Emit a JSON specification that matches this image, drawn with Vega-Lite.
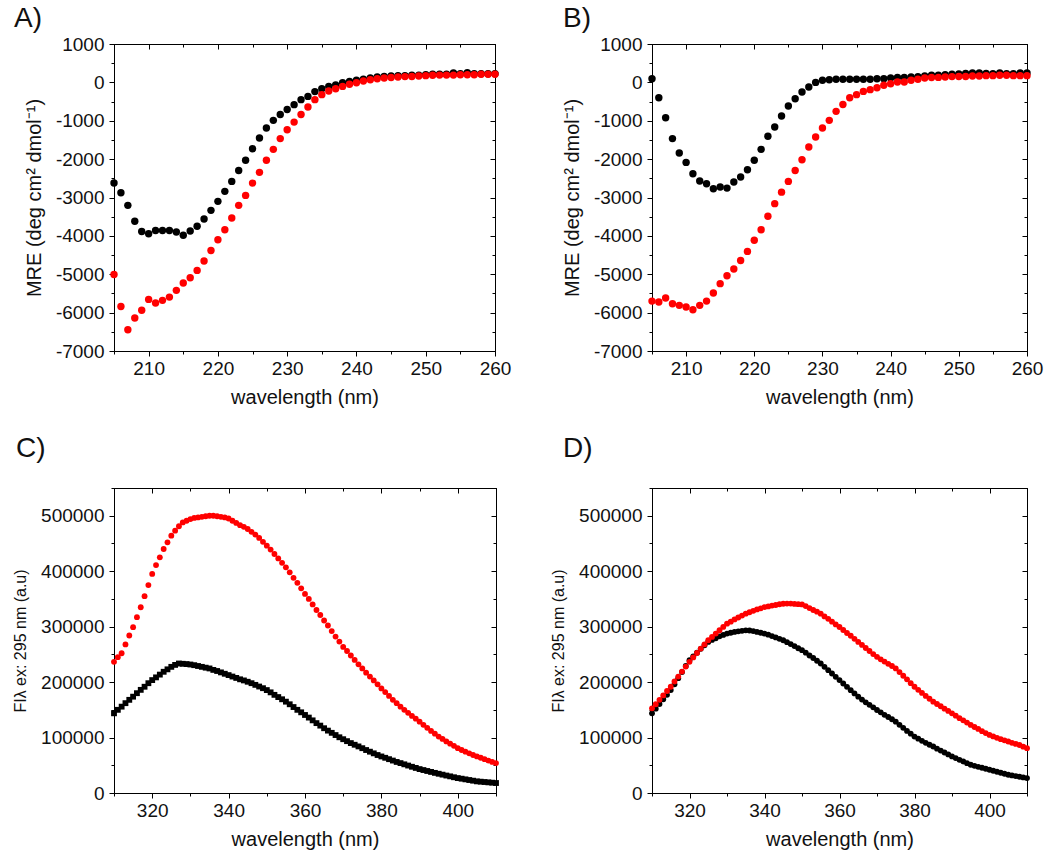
{
  "$schema": "https://vega.github.io/schema/vega-lite/v6.json",
  "background": "white",
  "padding": {"left": 12, "top": 4, "right": 0, "bottom": 0},
  "columns": 2,
  "spacing": {"row": 26, "column": 38},
  "config": {
    "font": "Liberation Sans",
    "view": {"stroke": "#000", "strokeWidth": 1},
    "axis": {"grid": false, "domainColor": "#000", "tickColor": "#000", "labelColor": "#111", "titleColor": "#111", "labelFontSize": 19, "titleFontSize": 20, "titleFontWeight": "normal", "labelFont": "Liberation Sans", "titleFont": "Liberation Sans", "labelOverlap": false, "labelFlush": false},
    "title": {"fontSize": 28, "fontWeight": "normal", "color": "#111", "font": "Liberation Sans"}
  },
  "datasets": {
    "a": [
      {"x":205,"y":-2620,"s":"k"},{"x":206,"y":-2875,"s":"k"},{"x":207,"y":-3205,"s":"k"},{"x":208,"y":-3620,"s":"k"},{"x":209,"y":-3885,"s":"k"},{"x":210,"y":-3945,"s":"k"},{"x":211,"y":-3860,"s":"k"},{"x":212,"y":-3860,"s":"k"},{"x":213,"y":-3860,"s":"k"},{"x":214,"y":-3900,"s":"k"},{"x":215,"y":-3985,"s":"k"},{"x":216,"y":-3875,"s":"k"},{"x":217,"y":-3750,"s":"k"},{"x":218,"y":-3560,"s":"k"},{"x":219,"y":-3335,"s":"k"},{"x":220,"y":-3100,"s":"k"},{"x":221,"y":-2840,"s":"k"},{"x":222,"y":-2580,"s":"k"},{"x":223,"y":-2295,"s":"k"},{"x":224,"y":-2030,"s":"k"},{"x":225,"y":-1730,"s":"k"},{"x":226,"y":-1450,"s":"k"},{"x":227,"y":-1190,"s":"k"},{"x":228,"y":-990,"s":"k"},{"x":229,"y":-835,"s":"k"},{"x":230,"y":-705,"s":"k"},{"x":231,"y":-580,"s":"k"},{"x":232,"y":-450,"s":"k"},{"x":233,"y":-365,"s":"k"},{"x":234,"y":-240,"s":"k"},{"x":235,"y":-165,"s":"k"},{"x":236,"y":-105,"s":"k"},{"x":237,"y":-70,"s":"k"},{"x":238,"y":-10,"s":"k"},{"x":239,"y":25,"s":"k"},{"x":240,"y":55,"s":"k"},{"x":241,"y":80,"s":"k"},{"x":242,"y":115,"s":"k"},{"x":243,"y":140,"s":"k"},{"x":244,"y":155,"s":"k"},{"x":245,"y":165,"s":"k"},{"x":246,"y":175,"s":"k"},{"x":247,"y":175,"s":"k"},{"x":248,"y":185,"s":"k"},{"x":249,"y":190,"s":"k"},{"x":250,"y":200,"s":"k"},{"x":251,"y":210,"s":"k"},{"x":252,"y":210,"s":"k"},{"x":253,"y":210,"s":"k"},{"x":254,"y":245,"s":"k"},{"x":255,"y":225,"s":"k"},{"x":256,"y":255,"s":"k"},{"x":257,"y":225,"s":"k"},{"x":258,"y":225,"s":"k"},{"x":259,"y":225,"s":"k"},{"x":260,"y":225,"s":"k"},
      {"x":205,"y":-5005,"s":"r"},{"x":206,"y":-5840,"s":"r"},{"x":207,"y":-6445,"s":"r"},{"x":208,"y":-6140,"s":"r"},{"x":209,"y":-5940,"s":"r"},{"x":210,"y":-5655,"s":"r"},{"x":211,"y":-5750,"s":"r"},{"x":212,"y":-5680,"s":"r"},{"x":213,"y":-5595,"s":"r"},{"x":214,"y":-5420,"s":"r"},{"x":215,"y":-5230,"s":"r"},{"x":216,"y":-5090,"s":"r"},{"x":217,"y":-4900,"s":"r"},{"x":218,"y":-4655,"s":"r"},{"x":219,"y":-4380,"s":"r"},{"x":220,"y":-4100,"s":"r"},{"x":221,"y":-3840,"s":"r"},{"x":222,"y":-3535,"s":"r"},{"x":223,"y":-3205,"s":"r"},{"x":224,"y":-2945,"s":"r"},{"x":225,"y":-2625,"s":"r"},{"x":226,"y":-2345,"s":"r"},{"x":227,"y":-2030,"s":"r"},{"x":228,"y":-1745,"s":"r"},{"x":229,"y":-1465,"s":"r"},{"x":230,"y":-1235,"s":"r"},{"x":231,"y":-1035,"s":"r"},{"x":232,"y":-835,"s":"r"},{"x":233,"y":-640,"s":"r"},{"x":234,"y":-450,"s":"r"},{"x":235,"y":-320,"s":"r"},{"x":236,"y":-225,"s":"r"},{"x":237,"y":-165,"s":"r"},{"x":238,"y":-105,"s":"r"},{"x":239,"y":-50,"s":"r"},{"x":240,"y":-10,"s":"r"},{"x":241,"y":35,"s":"r"},{"x":242,"y":70,"s":"r"},{"x":243,"y":95,"s":"r"},{"x":244,"y":115,"s":"r"},{"x":245,"y":125,"s":"r"},{"x":246,"y":140,"s":"r"},{"x":247,"y":150,"s":"r"},{"x":248,"y":155,"s":"r"},{"x":249,"y":165,"s":"r"},{"x":250,"y":175,"s":"r"},{"x":251,"y":185,"s":"r"},{"x":252,"y":190,"s":"r"},{"x":253,"y":190,"s":"r"},{"x":254,"y":190,"s":"r"},{"x":255,"y":200,"s":"r"},{"x":256,"y":200,"s":"r"},{"x":257,"y":200,"s":"r"},{"x":258,"y":210,"s":"r"},{"x":259,"y":210,"s":"r"},{"x":260,"y":210,"s":"r"}
    ],
    "b": [
      {"x":205,"y":95,"s":"k"},{"x":206,"y":-400,"s":"k"},{"x":207,"y":-920,"s":"k"},{"x":208,"y":-1465,"s":"k"},{"x":209,"y":-1840,"s":"k"},{"x":210,"y":-2085,"s":"k"},{"x":211,"y":-2380,"s":"k"},{"x":212,"y":-2570,"s":"k"},{"x":213,"y":-2640,"s":"k"},{"x":214,"y":-2770,"s":"k"},{"x":215,"y":-2725,"s":"k"},{"x":216,"y":-2755,"s":"k"},{"x":217,"y":-2595,"s":"k"},{"x":218,"y":-2465,"s":"k"},{"x":219,"y":-2275,"s":"k"},{"x":220,"y":-2030,"s":"k"},{"x":221,"y":-1745,"s":"k"},{"x":222,"y":-1405,"s":"k"},{"x":223,"y":-1165,"s":"k"},{"x":224,"y":-875,"s":"k"},{"x":225,"y":-615,"s":"k"},{"x":226,"y":-425,"s":"k"},{"x":227,"y":-250,"s":"k"},{"x":228,"y":-120,"s":"k"},{"x":229,"y":0,"s":"k"},{"x":230,"y":55,"s":"k"},{"x":231,"y":70,"s":"k"},{"x":232,"y":80,"s":"k"},{"x":233,"y":80,"s":"k"},{"x":234,"y":80,"s":"k"},{"x":235,"y":80,"s":"k"},{"x":236,"y":80,"s":"k"},{"x":237,"y":80,"s":"k"},{"x":238,"y":95,"s":"k"},{"x":239,"y":95,"s":"k"},{"x":240,"y":115,"s":"k"},{"x":241,"y":125,"s":"k"},{"x":242,"y":130,"s":"k"},{"x":243,"y":140,"s":"k"},{"x":244,"y":150,"s":"k"},{"x":245,"y":165,"s":"k"},{"x":246,"y":185,"s":"k"},{"x":247,"y":190,"s":"k"},{"x":248,"y":200,"s":"k"},{"x":249,"y":210,"s":"k"},{"x":250,"y":220,"s":"k"},{"x":251,"y":235,"s":"k"},{"x":252,"y":245,"s":"k"},{"x":253,"y":245,"s":"k"},{"x":254,"y":235,"s":"k"},{"x":255,"y":225,"s":"k"},{"x":256,"y":245,"s":"k"},{"x":257,"y":225,"s":"k"},{"x":258,"y":225,"s":"k"},{"x":259,"y":245,"s":"k"},{"x":260,"y":245,"s":"k"},
      {"x":205,"y":-5700,"s":"r"},{"x":206,"y":-5725,"s":"r"},{"x":207,"y":-5620,"s":"r"},{"x":208,"y":-5770,"s":"r"},{"x":209,"y":-5810,"s":"r"},{"x":210,"y":-5855,"s":"r"},{"x":211,"y":-5925,"s":"r"},{"x":212,"y":-5810,"s":"r"},{"x":213,"y":-5700,"s":"r"},{"x":214,"y":-5490,"s":"r"},{"x":215,"y":-5245,"s":"r"},{"x":216,"y":-5040,"s":"r"},{"x":217,"y":-4865,"s":"r"},{"x":218,"y":-4640,"s":"r"},{"x":219,"y":-4405,"s":"r"},{"x":220,"y":-4115,"s":"r"},{"x":221,"y":-3840,"s":"r"},{"x":222,"y":-3490,"s":"r"},{"x":223,"y":-3160,"s":"r"},{"x":224,"y":-2860,"s":"r"},{"x":225,"y":-2580,"s":"r"},{"x":226,"y":-2295,"s":"r"},{"x":227,"y":-2015,"s":"r"},{"x":228,"y":-1685,"s":"r"},{"x":229,"y":-1425,"s":"r"},{"x":230,"y":-1190,"s":"r"},{"x":231,"y":-990,"s":"r"},{"x":232,"y":-755,"s":"r"},{"x":233,"y":-575,"s":"r"},{"x":234,"y":-400,"s":"r"},{"x":235,"y":-320,"s":"r"},{"x":236,"y":-235,"s":"r"},{"x":237,"y":-190,"s":"r"},{"x":238,"y":-140,"s":"r"},{"x":239,"y":-75,"s":"r"},{"x":240,"y":-35,"s":"r"},{"x":241,"y":10,"s":"r"},{"x":242,"y":10,"s":"r"},{"x":243,"y":55,"s":"r"},{"x":244,"y":80,"s":"r"},{"x":245,"y":115,"s":"r"},{"x":246,"y":125,"s":"r"},{"x":247,"y":130,"s":"r"},{"x":248,"y":140,"s":"r"},{"x":249,"y":150,"s":"r"},{"x":250,"y":155,"s":"r"},{"x":251,"y":155,"s":"r"},{"x":252,"y":165,"s":"r"},{"x":253,"y":165,"s":"r"},{"x":254,"y":175,"s":"r"},{"x":255,"y":175,"s":"r"},{"x":256,"y":185,"s":"r"},{"x":257,"y":185,"s":"r"},{"x":258,"y":175,"s":"r"},{"x":259,"y":175,"s":"r"},{"x":260,"y":175,"s":"r"}
    ],
    "c": [
      {"x":310,"y":143700,"s":"k"},{"x":311,"y":150000,"s":"k"},{"x":312,"y":155700,"s":"k"},{"x":313,"y":162000,"s":"k"},{"x":314,"y":168000,"s":"k"},{"x":315,"y":173700,"s":"k"},{"x":316,"y":180000,"s":"k"},{"x":317,"y":186000,"s":"k"},{"x":318,"y":191600,"s":"k"},{"x":319,"y":198000,"s":"k"},{"x":320,"y":203600,"s":"k"},{"x":321,"y":208500,"s":"k"},{"x":322,"y":213500,"s":"k"},{"x":323,"y":218600,"s":"k"},{"x":324,"y":223000,"s":"k"},{"x":325,"y":227500,"s":"k"},{"x":326,"y":231000,"s":"k"},{"x":327,"y":233500,"s":"k"},{"x":328,"y":233000,"s":"k"},{"x":329,"y":232500,"s":"k"},{"x":330,"y":231700,"s":"k"},{"x":331,"y":230500,"s":"k"},{"x":332,"y":229000,"s":"k"},{"x":333,"y":227500,"s":"k"},{"x":334,"y":226000,"s":"k"},{"x":335,"y":224600,"s":"k"},{"x":336,"y":222000,"s":"k"},{"x":337,"y":220000,"s":"k"},{"x":338,"y":217500,"s":"k"},{"x":339,"y":215000,"s":"k"},{"x":340,"y":212600,"s":"k"},{"x":341,"y":210000,"s":"k"},{"x":342,"y":207500,"s":"k"},{"x":343,"y":205000,"s":"k"},{"x":344,"y":203000,"s":"k"},{"x":345,"y":200600,"s":"k"},{"x":346,"y":198000,"s":"k"},{"x":347,"y":195000,"s":"k"},{"x":348,"y":192000,"s":"k"},{"x":349,"y":189000,"s":"k"},{"x":350,"y":185600,"s":"k"},{"x":351,"y":181500,"s":"k"},{"x":352,"y":177000,"s":"k"},{"x":353,"y":173000,"s":"k"},{"x":354,"y":169000,"s":"k"},{"x":355,"y":164700,"s":"k"},{"x":356,"y":160000,"s":"k"},{"x":357,"y":155000,"s":"k"},{"x":358,"y":150000,"s":"k"},{"x":359,"y":145500,"s":"k"},{"x":360,"y":140700,"s":"k"},{"x":361,"y":136000,"s":"k"},{"x":362,"y":131000,"s":"k"},{"x":363,"y":126000,"s":"k"},{"x":364,"y":121500,"s":"k"},{"x":365,"y":116800,"s":"k"},{"x":366,"y":112500,"s":"k"},{"x":367,"y":108500,"s":"k"},{"x":368,"y":104500,"s":"k"},{"x":369,"y":100500,"s":"k"},{"x":370,"y":97000,"s":"k"},{"x":371,"y":93500,"s":"k"},{"x":372,"y":90000,"s":"k"},{"x":373,"y":87000,"s":"k"},{"x":374,"y":84000,"s":"k"},{"x":375,"y":80800,"s":"k"},{"x":376,"y":77500,"s":"k"},{"x":377,"y":74500,"s":"k"},{"x":378,"y":71500,"s":"k"},{"x":379,"y":68500,"s":"k"},{"x":380,"y":65900,"s":"k"},{"x":381,"y":63500,"s":"k"},{"x":382,"y":61000,"s":"k"},{"x":383,"y":58500,"s":"k"},{"x":384,"y":56000,"s":"k"},{"x":385,"y":53900,"s":"k"},{"x":386,"y":51700,"s":"k"},{"x":387,"y":49500,"s":"k"},{"x":388,"y":47300,"s":"k"},{"x":389,"y":45200,"s":"k"},{"x":390,"y":43100,"s":"k"},{"x":391,"y":41400,"s":"k"},{"x":392,"y":39700,"s":"k"},{"x":393,"y":38000,"s":"k"},{"x":394,"y":36300,"s":"k"},{"x":395,"y":34700,"s":"k"},{"x":396,"y":33100,"s":"k"},{"x":397,"y":31500,"s":"k"},{"x":398,"y":30000,"s":"k"},{"x":399,"y":28400,"s":"k"},{"x":400,"y":26900,"s":"k"},{"x":401,"y":25800,"s":"k"},{"x":402,"y":24600,"s":"k"},{"x":403,"y":23400,"s":"k"},{"x":404,"y":22200,"s":"k"},{"x":405,"y":21000,"s":"k"},{"x":406,"y":20400,"s":"k"},{"x":407,"y":19800,"s":"k"},{"x":408,"y":19200,"s":"k"},{"x":409,"y":18600,"s":"k"},{"x":410,"y":18000,"s":"k"},
      {"x":310,"y":236500,"s":"r"},{"x":311,"y":245000,"s":"r"},{"x":312,"y":252000,"s":"r"},{"x":313,"y":268000,"s":"r"},{"x":314,"y":284000,"s":"r"},{"x":315,"y":299000,"s":"r"},{"x":316,"y":317000,"s":"r"},{"x":317,"y":335000,"s":"r"},{"x":318,"y":355000,"s":"r"},{"x":319,"y":375000,"s":"r"},{"x":320,"y":395000,"s":"r"},{"x":321,"y":411000,"s":"r"},{"x":322,"y":425000,"s":"r"},{"x":323,"y":440000,"s":"r"},{"x":324,"y":452000,"s":"r"},{"x":325,"y":464000,"s":"r"},{"x":326,"y":473000,"s":"r"},{"x":327,"y":481000,"s":"r"},{"x":328,"y":488000,"s":"r"},{"x":329,"y":491000,"s":"r"},{"x":330,"y":494000,"s":"r"},{"x":331,"y":496000,"s":"r"},{"x":332,"y":497000,"s":"r"},{"x":333,"y":498000,"s":"r"},{"x":334,"y":499000,"s":"r"},{"x":335,"y":500000,"s":"r"},{"x":336,"y":500000,"s":"r"},{"x":337,"y":499000,"s":"r"},{"x":338,"y":498000,"s":"r"},{"x":339,"y":497000,"s":"r"},{"x":340,"y":495000,"s":"r"},{"x":341,"y":491000,"s":"r"},{"x":342,"y":487000,"s":"r"},{"x":343,"y":483000,"s":"r"},{"x":344,"y":480000,"s":"r"},{"x":345,"y":476000,"s":"r"},{"x":346,"y":471000,"s":"r"},{"x":347,"y":466000,"s":"r"},{"x":348,"y":460000,"s":"r"},{"x":349,"y":453000,"s":"r"},{"x":350,"y":446000,"s":"r"},{"x":351,"y":439000,"s":"r"},{"x":352,"y":431000,"s":"r"},{"x":353,"y":423000,"s":"r"},{"x":354,"y":415000,"s":"r"},{"x":355,"y":407000,"s":"r"},{"x":356,"y":398000,"s":"r"},{"x":357,"y":388000,"s":"r"},{"x":358,"y":379000,"s":"r"},{"x":359,"y":369000,"s":"r"},{"x":360,"y":359000,"s":"r"},{"x":361,"y":350000,"s":"r"},{"x":362,"y":340000,"s":"r"},{"x":363,"y":330000,"s":"r"},{"x":364,"y":321000,"s":"r"},{"x":365,"y":311000,"s":"r"},{"x":366,"y":302000,"s":"r"},{"x":367,"y":292000,"s":"r"},{"x":368,"y":282000,"s":"r"},{"x":369,"y":273000,"s":"r"},{"x":370,"y":263500,"s":"r"},{"x":371,"y":256000,"s":"r"},{"x":372,"y":248000,"s":"r"},{"x":373,"y":240000,"s":"r"},{"x":374,"y":232000,"s":"r"},{"x":375,"y":224600,"s":"r"},{"x":376,"y":217000,"s":"r"},{"x":377,"y":210000,"s":"r"},{"x":378,"y":203000,"s":"r"},{"x":379,"y":196000,"s":"r"},{"x":380,"y":188600,"s":"r"},{"x":381,"y":182000,"s":"r"},{"x":382,"y":175000,"s":"r"},{"x":383,"y":168000,"s":"r"},{"x":384,"y":162000,"s":"r"},{"x":385,"y":155700,"s":"r"},{"x":386,"y":150000,"s":"r"},{"x":387,"y":144500,"s":"r"},{"x":388,"y":139000,"s":"r"},{"x":389,"y":134000,"s":"r"},{"x":390,"y":128700,"s":"r"},{"x":391,"y":123000,"s":"r"},{"x":392,"y":117500,"s":"r"},{"x":393,"y":112000,"s":"r"},{"x":394,"y":107000,"s":"r"},{"x":395,"y":101800,"s":"r"},{"x":396,"y":97500,"s":"r"},{"x":397,"y":93000,"s":"r"},{"x":398,"y":89000,"s":"r"},{"x":399,"y":85000,"s":"r"},{"x":400,"y":80800,"s":"r"},{"x":401,"y":77500,"s":"r"},{"x":402,"y":74500,"s":"r"},{"x":403,"y":71500,"s":"r"},{"x":404,"y":68500,"s":"r"},{"x":405,"y":65900,"s":"r"},{"x":406,"y":63500,"s":"r"},{"x":407,"y":61000,"s":"r"},{"x":408,"y":58500,"s":"r"},{"x":409,"y":56000,"s":"r"},{"x":410,"y":53900,"s":"r"}
    ],
    "d": [
      {"x":310,"y":143700,"s":"k"},{"x":311,"y":152000,"s":"k"},{"x":312,"y":160500,"s":"k"},{"x":313,"y":169000,"s":"k"},{"x":314,"y":177000,"s":"k"},{"x":315,"y":185600,"s":"k"},{"x":316,"y":196000,"s":"k"},{"x":317,"y":207000,"s":"k"},{"x":318,"y":218000,"s":"k"},{"x":319,"y":229000,"s":"k"},{"x":320,"y":239500,"s":"k"},{"x":321,"y":246500,"s":"k"},{"x":322,"y":253000,"s":"k"},{"x":323,"y":260000,"s":"k"},{"x":324,"y":266500,"s":"k"},{"x":325,"y":272500,"s":"k"},{"x":326,"y":276000,"s":"k"},{"x":327,"y":279000,"s":"k"},{"x":328,"y":282500,"s":"k"},{"x":329,"y":285000,"s":"k"},{"x":330,"y":287400,"s":"k"},{"x":331,"y":289000,"s":"k"},{"x":332,"y":290500,"s":"k"},{"x":333,"y":291500,"s":"k"},{"x":334,"y":292500,"s":"k"},{"x":335,"y":293400,"s":"k"},{"x":336,"y":293000,"s":"k"},{"x":337,"y":292000,"s":"k"},{"x":338,"y":290500,"s":"k"},{"x":339,"y":289000,"s":"k"},{"x":340,"y":287400,"s":"k"},{"x":341,"y":285500,"s":"k"},{"x":342,"y":283000,"s":"k"},{"x":343,"y":280500,"s":"k"},{"x":344,"y":278000,"s":"k"},{"x":345,"y":275400,"s":"k"},{"x":346,"y":272000,"s":"k"},{"x":347,"y":268500,"s":"k"},{"x":348,"y":265000,"s":"k"},{"x":349,"y":261000,"s":"k"},{"x":350,"y":257500,"s":"k"},{"x":351,"y":253000,"s":"k"},{"x":352,"y":248000,"s":"k"},{"x":353,"y":243500,"s":"k"},{"x":354,"y":238500,"s":"k"},{"x":355,"y":233500,"s":"k"},{"x":356,"y":227500,"s":"k"},{"x":357,"y":221500,"s":"k"},{"x":358,"y":215500,"s":"k"},{"x":359,"y":209500,"s":"k"},{"x":360,"y":203600,"s":"k"},{"x":361,"y":197500,"s":"k"},{"x":362,"y":191500,"s":"k"},{"x":363,"y":185500,"s":"k"},{"x":364,"y":179500,"s":"k"},{"x":365,"y":173700,"s":"k"},{"x":366,"y":168500,"s":"k"},{"x":367,"y":163500,"s":"k"},{"x":368,"y":159000,"s":"k"},{"x":369,"y":154500,"s":"k"},{"x":370,"y":149700,"s":"k"},{"x":371,"y":145500,"s":"k"},{"x":372,"y":141000,"s":"k"},{"x":373,"y":137000,"s":"k"},{"x":374,"y":133000,"s":"k"},{"x":375,"y":128700,"s":"k"},{"x":376,"y":123000,"s":"k"},{"x":377,"y":117500,"s":"k"},{"x":378,"y":112000,"s":"k"},{"x":379,"y":107000,"s":"k"},{"x":380,"y":101800,"s":"k"},{"x":381,"y":98000,"s":"k"},{"x":382,"y":94000,"s":"k"},{"x":383,"y":90500,"s":"k"},{"x":384,"y":87000,"s":"k"},{"x":385,"y":83800,"s":"k"},{"x":386,"y":80000,"s":"k"},{"x":387,"y":76500,"s":"k"},{"x":388,"y":73000,"s":"k"},{"x":389,"y":69500,"s":"k"},{"x":390,"y":65900,"s":"k"},{"x":391,"y":62900,"s":"k"},{"x":392,"y":59800,"s":"k"},{"x":393,"y":56800,"s":"k"},{"x":394,"y":53800,"s":"k"},{"x":395,"y":50900,"s":"k"},{"x":396,"y":49000,"s":"k"},{"x":397,"y":47200,"s":"k"},{"x":398,"y":45500,"s":"k"},{"x":399,"y":43700,"s":"k"},{"x":400,"y":41900,"s":"k"},{"x":401,"y":40100,"s":"k"},{"x":402,"y":38300,"s":"k"},{"x":403,"y":36500,"s":"k"},{"x":404,"y":34700,"s":"k"},{"x":405,"y":32900,"s":"k"},{"x":406,"y":31700,"s":"k"},{"x":407,"y":30500,"s":"k"},{"x":408,"y":29300,"s":"k"},{"x":409,"y":28100,"s":"k"},{"x":410,"y":26900,"s":"k"},
      {"x":310,"y":152700,"s":"r"},{"x":311,"y":160000,"s":"r"},{"x":312,"y":168000,"s":"r"},{"x":313,"y":176000,"s":"r"},{"x":314,"y":184000,"s":"r"},{"x":315,"y":191600,"s":"r"},{"x":316,"y":201000,"s":"r"},{"x":317,"y":210000,"s":"r"},{"x":318,"y":219000,"s":"r"},{"x":319,"y":228000,"s":"r"},{"x":320,"y":236500,"s":"r"},{"x":321,"y":244500,"s":"r"},{"x":322,"y":252500,"s":"r"},{"x":323,"y":260500,"s":"r"},{"x":324,"y":268000,"s":"r"},{"x":325,"y":275400,"s":"r"},{"x":326,"y":281500,"s":"r"},{"x":327,"y":287500,"s":"r"},{"x":328,"y":293500,"s":"r"},{"x":329,"y":299500,"s":"r"},{"x":330,"y":305400,"s":"r"},{"x":331,"y":309000,"s":"r"},{"x":332,"y":313000,"s":"r"},{"x":333,"y":316500,"s":"r"},{"x":334,"y":320000,"s":"r"},{"x":335,"y":323400,"s":"r"},{"x":336,"y":326000,"s":"r"},{"x":337,"y":328500,"s":"r"},{"x":338,"y":331000,"s":"r"},{"x":339,"y":333000,"s":"r"},{"x":340,"y":335300,"s":"r"},{"x":341,"y":336500,"s":"r"},{"x":342,"y":338000,"s":"r"},{"x":343,"y":339000,"s":"r"},{"x":344,"y":340300,"s":"r"},{"x":345,"y":341300,"s":"r"},{"x":346,"y":341500,"s":"r"},{"x":347,"y":341500,"s":"r"},{"x":348,"y":341000,"s":"r"},{"x":349,"y":340500,"s":"r"},{"x":350,"y":340100,"s":"r"},{"x":351,"y":337000,"s":"r"},{"x":352,"y":333500,"s":"r"},{"x":353,"y":330000,"s":"r"},{"x":354,"y":327000,"s":"r"},{"x":355,"y":323400,"s":"r"},{"x":356,"y":318500,"s":"r"},{"x":357,"y":314000,"s":"r"},{"x":358,"y":309000,"s":"r"},{"x":359,"y":304000,"s":"r"},{"x":360,"y":299400,"s":"r"},{"x":361,"y":294000,"s":"r"},{"x":362,"y":288500,"s":"r"},{"x":363,"y":283500,"s":"r"},{"x":364,"y":278000,"s":"r"},{"x":365,"y":272500,"s":"r"},{"x":366,"y":267000,"s":"r"},{"x":367,"y":261500,"s":"r"},{"x":368,"y":256000,"s":"r"},{"x":369,"y":250500,"s":"r"},{"x":370,"y":245500,"s":"r"},{"x":371,"y":241000,"s":"r"},{"x":372,"y":237000,"s":"r"},{"x":373,"y":233000,"s":"r"},{"x":374,"y":229000,"s":"r"},{"x":375,"y":224600,"s":"r"},{"x":376,"y":218000,"s":"r"},{"x":377,"y":211500,"s":"r"},{"x":378,"y":205000,"s":"r"},{"x":379,"y":198000,"s":"r"},{"x":380,"y":191600,"s":"r"},{"x":381,"y":186000,"s":"r"},{"x":382,"y":180500,"s":"r"},{"x":383,"y":175000,"s":"r"},{"x":384,"y":170000,"s":"r"},{"x":385,"y":164700,"s":"r"},{"x":386,"y":160500,"s":"r"},{"x":387,"y":156500,"s":"r"},{"x":388,"y":152000,"s":"r"},{"x":389,"y":148000,"s":"r"},{"x":390,"y":143700,"s":"r"},{"x":391,"y":139500,"s":"r"},{"x":392,"y":135000,"s":"r"},{"x":393,"y":131000,"s":"r"},{"x":394,"y":127000,"s":"r"},{"x":395,"y":122800,"s":"r"},{"x":396,"y":119000,"s":"r"},{"x":397,"y":115500,"s":"r"},{"x":398,"y":111500,"s":"r"},{"x":399,"y":108000,"s":"r"},{"x":400,"y":104800,"s":"r"},{"x":401,"y":102000,"s":"r"},{"x":402,"y":99500,"s":"r"},{"x":403,"y":97000,"s":"r"},{"x":404,"y":95000,"s":"r"},{"x":405,"y":92800,"s":"r"},{"x":406,"y":90500,"s":"r"},{"x":407,"y":88500,"s":"r"},{"x":408,"y":86500,"s":"r"},{"x":409,"y":83500,"s":"r"},{"x":410,"y":80800,"s":"r"}
    ]
  },
  "concat": [
    {
      "width": 381, "height": 307,
      "title": {"text": "A)", "anchor": "start", "frame": "group", "dx": -100, "offset": 2},
      "data": {"name": "a"},
      "layer": [
        {"mark": {"type": "point", "filled": true, "opacity": 1, "size": 55},
         "encoding": {
           "x": {"field": "x", "type": "quantitative", "scale": {"domain": [205, 260], "nice": false, "zero": false},
                 "axis": {"orient": "bottom", "title": "wavelength (nm)", "values": [205,210,215,220,225,230,235,240,245,250,255,260], "labelExpr": "datum.value % 10 === 0 ? '' + datum.value : ''", "tickSize": {"condition": {"test": "datum.value % 10 === 0", "value": 5}, "value": 3}, "labelPadding": 3, "titlePadding": 9}},
           "y": {"field": "y", "type": "quantitative", "scale": {"domain": [-7000, 1000], "nice": false, "zero": false},
                 "axis": {"orient": "left", "title": "MRE (deg cm² dmol⁻¹)", "values": [-7000,-6500,-6000,-5500,-5000,-4500,-4000,-3500,-3000,-2500,-2000,-1500,-1000,-500,0,500,1000], "labelExpr": "datum.value % 1000 === 0 ? '' + datum.value : ''", "tickSize": {"condition": {"test": "datum.value % 1000 === 0", "value": 5}, "value": 3}, "labelPadding": 5, "titlePadding": 11}},
           "color": {"field": "s", "type": "nominal", "scale": {"domain": ["k", "r"], "range": ["#000000", "#ff0000"]}, "legend": null}
         }},
        {"mark": {"type": "point", "opacity": 0},
         "encoding": {
           "x": {"field": "x", "type": "quantitative", "axis": {"orient": "top", "title": null, "labels": false, "values": [205,210,215,220,225,230,235,240,245,250,255,260], "tickSize": {"condition": {"test": "datum.value % 10 === 0", "value": -5}, "value": -3}}},
           "y": {"field": "y", "type": "quantitative", "axis": {"orient": "right", "title": null, "labels": false, "values": [-7000,-6500,-6000,-5500,-5000,-4500,-4000,-3500,-3000,-2500,-2000,-1500,-1000,-500,0,500,1000], "tickSize": {"condition": {"test": "datum.value % 1000 === 0", "value": -5}, "value": -3}}}
         }}
      ],
      "resolve": {"axis": {"x": "independent", "y": "independent"}}
    },
    {
      "width": 375, "height": 307,
      "title": {"text": "B)", "anchor": "start", "frame": "group", "dx": -89, "offset": 2},
      "data": {"name": "b"},
      "layer": [
        {"mark": {"type": "point", "filled": true, "opacity": 1, "size": 55},
         "encoding": {
           "x": {"field": "x", "type": "quantitative", "scale": {"domain": [205, 260], "nice": false, "zero": false},
                 "axis": {"orient": "bottom", "title": "wavelength (nm)", "values": [205,210,215,220,225,230,235,240,245,250,255,260], "labelExpr": "datum.value % 10 === 0 ? '' + datum.value : ''", "tickSize": {"condition": {"test": "datum.value % 10 === 0", "value": 5}, "value": 3}, "labelPadding": 3, "titlePadding": 9}},
           "y": {"field": "y", "type": "quantitative", "scale": {"domain": [-7000, 1000], "nice": false, "zero": false},
                 "axis": {"orient": "left", "title": "MRE (deg cm² dmol⁻¹)", "values": [-7000,-6500,-6000,-5500,-5000,-4500,-4000,-3500,-3000,-2500,-2000,-1500,-1000,-500,0,500,1000], "labelExpr": "datum.value % 1000 === 0 ? '' + datum.value : ''", "tickSize": {"condition": {"test": "datum.value % 1000 === 0", "value": 5}, "value": 3}, "labelPadding": 5, "titlePadding": 11}},
           "color": {"field": "s", "type": "nominal", "scale": {"domain": ["k", "r"], "range": ["#000000", "#ff0000"]}, "legend": null}
         }},
        {"mark": {"type": "point", "opacity": 0},
         "encoding": {
           "x": {"field": "x", "type": "quantitative", "axis": {"orient": "top", "title": null, "labels": false, "values": [205,210,215,220,225,230,235,240,245,250,255,260], "tickSize": {"condition": {"test": "datum.value % 10 === 0", "value": -5}, "value": -3}}},
           "y": {"field": "y", "type": "quantitative", "axis": {"orient": "right", "title": null, "labels": false, "values": [-7000,-6500,-6000,-5500,-5000,-4500,-4000,-3500,-3000,-2500,-2000,-1500,-1000,-500,0,500,1000], "tickSize": {"condition": {"test": "datum.value % 1000 === 0", "value": -5}, "value": -3}}}
         }}
      ],
      "resolve": {"axis": {"x": "independent", "y": "independent"}}
    },
    {
      "width": 382, "height": 305,
      "title": {"text": "C)", "anchor": "start", "frame": "group", "dx": -98, "offset": 16},
      "data": {"name": "c"},
      "layer": [
        {"mark": {"type": "point", "filled": true, "opacity": 1, "size": 34},
         "encoding": {
           "x": {"field": "x", "type": "quantitative", "scale": {"domain": [310, 410], "nice": false, "zero": false},
                 "axis": {"orient": "bottom", "title": "wavelength (nm)", "values": [310,320,330,340,350,360,370,380,390,400,410], "labelExpr": "datum.value % 20 === 0 ? '' + datum.value : ''", "tickSize": {"condition": {"test": "datum.value % 20 === 0", "value": 5}, "value": 3}, "labelPadding": 3, "titlePadding": 9}},
           "y": {"field": "y", "type": "quantitative", "scale": {"domain": [0, 550000], "nice": false, "zero": false},
                 "axis": {"orient": "left", "title": "FIλ ex: 295 nm (a.u)", "titleFontSize": 16, "values": [0,50000,100000,150000,200000,250000,300000,350000,400000,450000,500000,550000], "labelExpr": "datum.value % 100000 === 0 ? '' + datum.value : ''", "tickSize": {"condition": {"test": "datum.value % 100000 === 0", "value": 5}, "value": 3}, "labelPadding": 5, "titlePadding": 12}},
           "color": {"field": "s", "type": "nominal", "scale": {"domain": ["k", "r"], "range": ["#000000", "#ff0000"]}, "legend": null},
           "shape": {"field": "s", "type": "nominal", "scale": {"domain": ["k", "r"], "range": ["square", "circle"]}, "legend": null}
         }},
        {"mark": {"type": "point", "opacity": 0},
         "encoding": {
           "x": {"field": "x", "type": "quantitative", "axis": {"orient": "top", "title": null, "labels": false, "values": [310,320,330,340,350,360,370,380,390,400,410], "tickSize": {"condition": {"test": "datum.value % 20 === 0", "value": -5}, "value": -3}}},
           "y": {"field": "y", "type": "quantitative", "axis": {"orient": "right", "title": null, "labels": false, "values": [0,50000,100000,150000,200000,250000,300000,350000,400000,450000,500000,550000], "tickSize": {"condition": {"test": "datum.value % 100000 === 0", "value": -5}, "value": -3}}}
         }}
      ],
      "resolve": {"axis": {"x": "independent", "y": "independent"}}
    },
    {
      "width": 375, "height": 305,
      "title": {"text": "D)", "anchor": "start", "frame": "group", "dx": -89, "offset": 16},
      "data": {"name": "d"},
      "layer": [
        {"mark": {"type": "point", "filled": true, "opacity": 1, "size": 34},
         "encoding": {
           "x": {"field": "x", "type": "quantitative", "scale": {"domain": [310, 410], "nice": false, "zero": false},
                 "axis": {"orient": "bottom", "title": "wavelength (nm)", "values": [310,320,330,340,350,360,370,380,390,400,410], "labelExpr": "datum.value % 20 === 0 ? '' + datum.value : ''", "tickSize": {"condition": {"test": "datum.value % 20 === 0", "value": 5}, "value": 3}, "labelPadding": 3, "titlePadding": 9}},
           "y": {"field": "y", "type": "quantitative", "scale": {"domain": [0, 550000], "nice": false, "zero": false},
                 "axis": {"orient": "left", "title": "FIλ ex: 295 nm (a.u)", "titleFontSize": 16, "values": [0,50000,100000,150000,200000,250000,300000,350000,400000,450000,500000,550000], "labelExpr": "datum.value % 100000 === 0 ? '' + datum.value : ''", "tickSize": {"condition": {"test": "datum.value % 100000 === 0", "value": 5}, "value": 3}, "labelPadding": 5, "titlePadding": 12}},
           "color": {"field": "s", "type": "nominal", "scale": {"domain": ["k", "r"], "range": ["#000000", "#ff0000"]}, "legend": null}
         }},
        {"mark": {"type": "point", "opacity": 0},
         "encoding": {
           "x": {"field": "x", "type": "quantitative", "axis": {"orient": "top", "title": null, "labels": false, "values": [310,320,330,340,350,360,370,380,390,400,410], "tickSize": {"condition": {"test": "datum.value % 20 === 0", "value": -5}, "value": -3}}},
           "y": {"field": "y", "type": "quantitative", "axis": {"orient": "right", "title": null, "labels": false, "values": [0,50000,100000,150000,200000,250000,300000,350000,400000,450000,500000,550000], "tickSize": {"condition": {"test": "datum.value % 100000 === 0", "value": -5}, "value": -3}}}
         }}
      ],
      "resolve": {"axis": {"x": "independent", "y": "independent"}}
    }
  ]
}
